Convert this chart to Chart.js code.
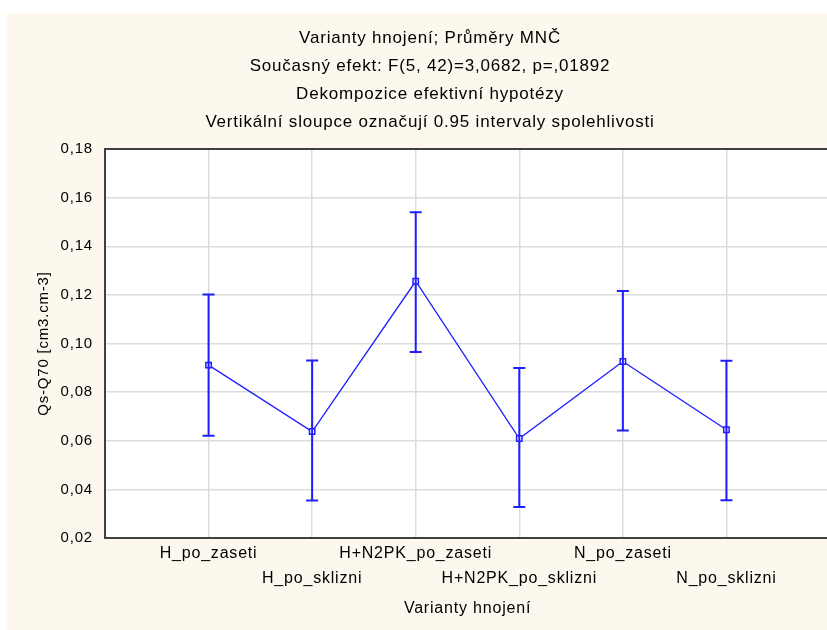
<!DOCTYPE html>
<html>
<head>
<meta charset="utf-8">
<script src="https://cdn.jsdelivr.net/npm/chart.js@4.4.1/dist/chart.umd.min.js"></script>
<style>
  html, body { margin: 0; padding: 0; background: #ffffff; }
  #wrap { position: relative; width: 827px; height: 630px; overflow: hidden; }
  #chart { position: absolute; left: 7px; top: 13px; background: #fdf8ee; }
</style>
</head>
<body>
<div id="wrap"><canvas id="chart" width="823" height="617"></canvas></div>
<script>
// ======= DATA =======
const categories = ["H_po_zaseti", "H_po_sklizni", "H+N2PK_po_zaseti", "H+N2PK_po_sklizni", "N_po_zaseti", "N_po_sklizni"];
const means = [0.0911, 0.0638, 0.1256, 0.0609, 0.0926, 0.0645];
const lower = [0.0621, 0.0354, 0.0965, 0.0328, 0.0642, 0.0355];
const upper = [0.1202, 0.0930, 0.1540, 0.0899, 0.1216, 0.0929];
const yTicks = [0.02, 0.04, 0.06, 0.08, 0.10, 0.12, 0.14, 0.16, 0.18];
const titleLines = [
  "Varianty hnojení; Průměry MNČ",
  "Současný efekt: F(5, 42)=3,0682, p=,01892",
  "Dekompozice efektivní hypotézy",
  "Vertikální sloupce označují 0.95 intervaly spolehlivosti"
];
const xTitle = "Varianty hnojení";
const yTitle = "Qs-Q70 [cm3.cm-3]";

const BLUE = "#1e1eff";
const FONT = "'Liberation Sans', Arial, sans-serif";
const SPACING = "0.8px";

// ======= PLUGINS =======
// the original font is spaced wider than Arial
const spacing = {
  id: "spacing",
  beforeInit(chart) { chart.ctx.letterSpacing = SPACING; },
  beforeLayout(chart) { chart.ctx.letterSpacing = SPACING; },
  beforeDraw(chart) { chart.ctx.letterSpacing = SPACING; }
};

const titles = {
  id: "titles",
  afterDraw(chart) {
    const ctx = chart.ctx;
    ctx.save();
    ctx.fillStyle = "#000";
    ctx.font = "17px " + FONT;
    ctx.textAlign = "center";
    ctx.textBaseline = "middle";
    titleLines.forEach((t, i) => ctx.fillText(t, 423, 25 + i * 28));
    ctx.restore();
  }
};

const errorBars = {
  id: "errorBars",
  afterDatasetsDraw(chart) {
    const ctx = chart.ctx;
    const xs = chart.scales.x, ys = chart.scales.y;
    ctx.save();
    ctx.strokeStyle = BLUE;
    ctx.lineWidth = 2;
    categories.forEach((c, i) => {
      const x = xs.getPixelForValue(i + 1);
      const y1 = ys.getPixelForValue(lower[i]);
      const y2 = ys.getPixelForValue(upper[i]);
      ctx.beginPath();
      ctx.moveTo(x, y1); ctx.lineTo(x, y2);
      ctx.moveTo(x - 6, y1); ctx.lineTo(x + 6, y1);
      ctx.moveTo(x - 6, y2); ctx.lineTo(x + 6, y2);
      ctx.stroke();
    });
    ctx.restore();
  }
};

const frame = {
  id: "frame",
  beforeDatasetsDraw(chart) {
    const a = chart.chartArea, ctx = chart.ctx;
    ctx.save();
    ctx.strokeStyle = "#404040";
    ctx.lineWidth = 2;
    ctx.strokeRect(a.left, a.top, a.right - a.left, a.bottom - a.top);
    ctx.restore();
  },
  beforeDraw(chart) {
    const a = chart.chartArea, ctx = chart.ctx;
    ctx.save();
    ctx.fillStyle = "#ffffff";
    ctx.fillRect(a.left, a.top, a.right - a.left, a.bottom - a.top);
    ctx.restore();
  }
};

// ======= CHART =======
const ctx = document.getElementById("chart");
new Chart(ctx, {
  type: "line",
  data: {
    datasets: [{
      data: means.map((m, i) => ({ x: i + 1, y: m })),
      borderColor: BLUE,
      borderWidth: 1.3,
      pointStyle: "rect",
      pointRadius: 3.8,
      pointBorderWidth: 1.5,
      pointBackgroundColor: "#ffffff",
      pointBorderColor: BLUE,
      tension: 0
    }]
  },
  options: {
    responsive: false,
    animation: false,
    layout: { autoPadding: false, padding: { top: 136, right: 0, left: 0, bottom: 0 } },
    plugins: { legend: { display: false }, tooltip: { enabled: false } },
    scales: {
      x: {
        type: "linear",
        min: 0,
        max: 7,
        afterFit(scale) {
          scale.height = 92;
          scale.paddingLeft = 0;
          scale.paddingRight = 0;
        },
        afterBuildTicks(scale) {
          scale.ticks = [0, 1, 2, 3, 4, 5, 6, 7].map(v => ({ value: v }));
        },
        grid: { color: "#dcdcdc", lineWidth: 1.5, drawTicks: false },
        border: { display: false },
        ticks: {
          padding: 3,
          color: "#000",
          font: { family: FONT, size: 16, lineHeight: 1.55 },
          maxRotation: 0,
          autoSkip: false,
          callback: (v) => {
            const c = categories[v - 1];
            if (!c) return "";
            return v % 2 === 1 ? [c] : ["", c];
          }
        },
        title: {
          display: true,
          text: xTitle,
          color: "#000",
          font: { family: FONT, size: 16 },
          padding: { top: 0, bottom: 12 }
        }
      },
      y: {
        min: 0.02,
        max: 0.18,
        afterFit(scale) { scale.width = 98; },
        afterBuildTicks(scale) {
          scale.ticks = yTicks.map(v => ({ value: v }));
        },
        grid: { color: "#dcdcdc", lineWidth: 1.5, drawTicks: false },
        border: { display: false },
        ticks: {
          padding: 12,
          color: "#000",
          font: { family: FONT, size: 15 },
          callback: (v) => v.toFixed(2).replace(".", ",")
        },
        title: {
          display: true,
          text: yTitle,
          color: "#000",
          font: { family: FONT, size: 15 },
          padding: { top: 28, bottom: 0 }
        }
      }
    }
  },
  plugins: [spacing, frame, errorBars, titles]
});
</script>
</body>
</html>
